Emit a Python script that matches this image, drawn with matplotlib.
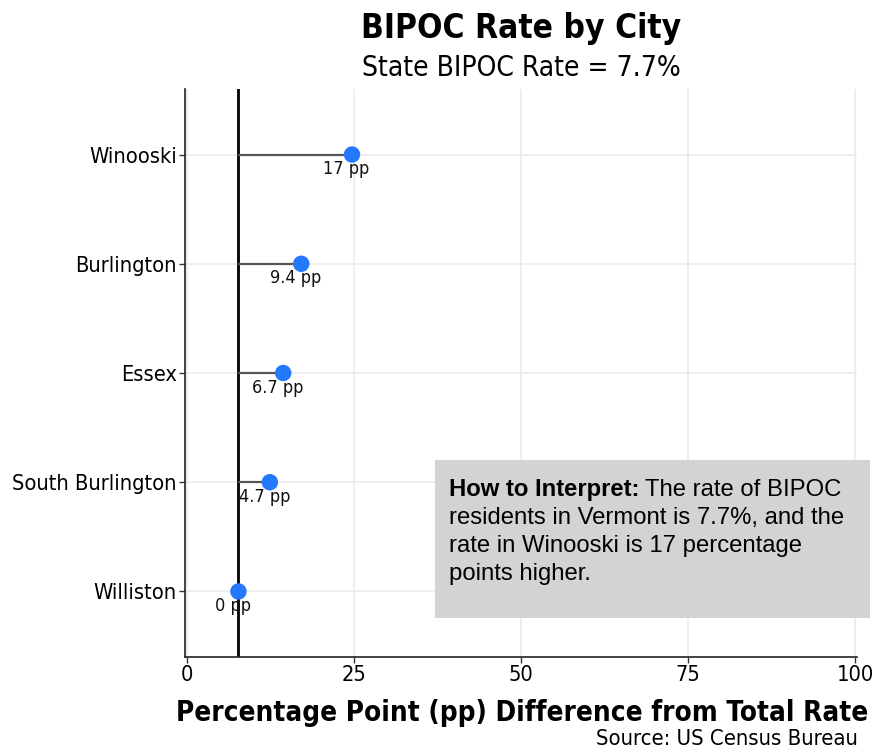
import matplotlib
matplotlib.use("Agg")
import matplotlib.pyplot as plt

cities = ["Williston", "South Burlington", "Essex", "Burlington", "Winooski"]
diffs = [0.0, 4.7, 6.7, 9.4, 17.0]
diff_labels = ["0 pp", "4.7 pp", "6.7 pp", "9.4 pp", "17 pp"]
state_rate = 7.7
x_ticks = [0, 25, 50, 75, 100]

W, H = 872, 751
fig = plt.figure(figsize=(W / 100, H / 100), dpi=100)
ax = fig.add_axes([185 / W, (H - 657) / H, (857 - 185) / W, (657 - 89) / H])

FONT = dict(family="DejaVu Sans", stretch="condensed")

ypos = list(range(len(cities)))
values = [state_rate + d for d in diffs]

ax.set_xlim(-0.3, 100.3)
ax.set_ylim(-0.6, len(cities) - 0.4)
ax.set_xticks(x_ticks)
ax.set_yticks(ypos)
ax.set_yticklabels(cities, fontsize=15.7, **FONT)
ax.set_xticklabels([str(t) for t in x_ticks], fontsize=15.7, **FONT)
ax.grid(True, color="#ebebeb", linewidth=1.2)
ax.set_axisbelow(True)
for s in ["top", "right"]:
    ax.spines[s].set_visible(False)
for s in ["left", "bottom"]:
    ax.spines[s].set_color("#222222")
    ax.spines[s].set_linewidth(1.2)
ax.tick_params(axis="both", length=4, width=1, color="#333333", pad=2)

ax.axvline(state_rate, color="black", linewidth=2, zorder=2)
ax.hlines(ypos, state_rate, values, color="#555555", linewidth=1.6, zorder=3)
ax.scatter(values, ypos, s=140, color="#2478fb", zorder=4, edgecolors="none")
for v, y, lab in zip(values, ypos, diff_labels):
    ax.annotate(lab, (v, y), xytext=(-4, -10.5), textcoords="offset points",
                ha="center", va="center", fontsize=13, color="#111111", **FONT)

tf = fig.transFigure
def px(x, y):
    return x / W, (H - y) / H

fig.text(*px(521, 38), "BIPOC Rate by City", ha="center", va="baseline",
         fontsize=24, fontweight="bold", **FONT)
fig.text(*px(521, 76), "State BIPOC Rate = 7.7%", ha="center", va="baseline",
         fontsize=20.2, **FONT)
fig.text(*px(522, 721), "Percentage Point (pp) Difference from Total Rate",
         ha="center", va="baseline", fontsize=20, fontweight="bold", **FONT)
fig.text(*px(858, 745), "Source: US Census Bureau", ha="right", va="baseline",
         fontsize=15.8, **FONT)

# annotation box
box = matplotlib.patches.Rectangle(px(435, 618), (870 - 435) / W, (618 - 460) / H,
                                   transform=tf, facecolor="#d3d3d3",
                                   edgecolor="none", zorder=5)
fig.patches.append(box)
lines = ["The rate of BIPOC", "residents in Vermont is 7.7%, and the",
         "rate in Winooski is 17 percentage", "points higher."]
bx = 449
FS = 17.2
t1 = fig.text(*px(bx, 496), "How to Interpret:", ha="left", va="baseline",
              fontsize=FS, fontweight="bold", family="Liberation Sans", zorder=6)
fig.canvas.draw()
bb = t1.get_window_extent()
fig.text((bb.x1 + 5) / W, (H - 496) / H, lines[0], ha="left", va="baseline",
         fontsize=FS, family="Liberation Sans", zorder=6)
for i, ln in enumerate(lines[1:], start=1):
    fig.text(*px(bx, 496 + 28 * i), ln, ha="left", va="baseline",
             fontsize=FS, family="Liberation Sans", zorder=6)

fig.savefig("out.png", dpi=100)
